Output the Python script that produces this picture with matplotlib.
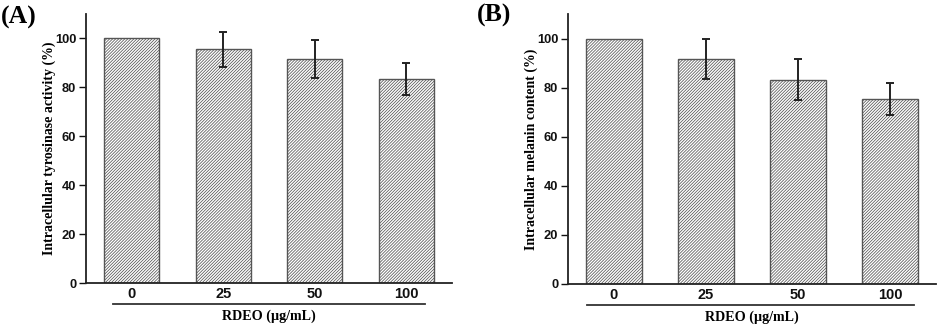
import numpy as np
import matplotlib
matplotlib.use("Agg")
import matplotlib.pyplot as plt

# data
doses = ["0", "25", "50", "100"]
tyrosinase = [100, 95.5, 91.6, 83.5]
tyrosinase_err = [0, 7.2, 7.8, 6.6]
melanin = [100, 91.7, 83.3, 75.5]
melanin_err = [0, 8.0, 8.5, 6.5]

plt.rcParams['hatch.color'] = '#707070'
plt.rcParams['hatch.linewidth'] = 0.55

serif = 'Liberation Serif'
sans = 'Liberation Sans'

fig = plt.figure(figsize=(9.41, 3.30), dpi=100)
axA = fig.add_axes([0.0914, 0.1424, 0.3889, 0.8152])
axB = fig.add_axes([0.6036, 0.1394, 0.3911, 0.8182])


def draw_panel(ax, vals, errs, ylabel, line_x):
    x = np.arange(len(doses))
    ax.bar(x, vals, width=0.6, color='white', edgecolor='#555555',
           linewidth=1.0, hatch='/' * 11)
    ax.errorbar(x[1:], vals[1:], yerr=errs[1:], fmt='none', ecolor='#222222',
                elinewidth=1.4, capsize=2.6, capthick=1.4)
    ax.set_xlim(-0.5, 3.5)
    ax.set_ylim(0, 110)
    ax.set_yticks([0, 20, 40, 60, 80, 100])
    ax.set_xticks(x)
    ax.set_xticklabels(doses, fontfamily=sans, fontweight='bold', fontsize=10.5)
    for t in ax.get_yticklabels():
        t.set_fontfamily(sans)
        t.set_fontweight('bold')
        t.set_fontsize(9.3)
    ax.tick_params(axis='x', length=0, pad=3, colors='#111111')
    ax.tick_params(axis='y', length=5, width=1.0, direction='out', pad=2,
                   colors='#111111')
    for s in ['top', 'right']:
        ax.spines[s].set_visible(False)
    for s in ['left', 'bottom']:
        ax.spines[s].set_linewidth(1.3)
        ax.spines[s].set_color('#222222')
    ax.set_ylabel(ylabel, fontfamily=serif, fontweight='bold', fontsize=10,
                  labelpad=-1)
    # grouping line under the tick labels
    ax.plot(line_x, [-0.078, -0.078], transform=ax.get_xaxis_transform(),
            color='#333333', linewidth=1.3, clip_on=False)
    ax.text(1.5, -0.125, 'RDEO (μg/mL)', transform=ax.get_xaxis_transform(),
            ha='center', va='center', fontfamily=serif, fontweight='bold',
            fontsize=10.2)
    return ax


draw_panel(axA, tyrosinase, tyrosinase_err,
           'Intracellular tyrosinase activity (%)', [-0.21, 3.2])
draw_panel(axB, melanin, melanin_err,
           'Intracellular melanin content (%)', [-0.29, 3.26])

fig.text(0.001, 0.948, '(A)', fontfamily=serif, fontweight='bold', fontsize=18.5,
         va='center', ha='left')
fig.text(0.507, 0.952, '(B)', fontfamily=serif, fontweight='bold', fontsize=18.5,
         va='center', ha='left')

fig.savefig('out.png', dpi=100)
